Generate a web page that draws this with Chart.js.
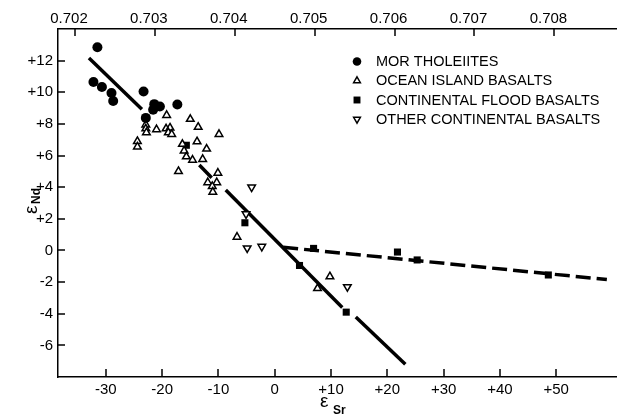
<!DOCTYPE html>
<html><head><meta charset="utf-8">
<script src="https://cdn.jsdelivr.net/npm/chart.js@4.4.0/dist/chart.umd.min.js"></script>
<style>html,body{margin:0;padding:0;background:#fff;}canvas{display:block;}</style>
</head><body>
<canvas id="c" width="617" height="417"></canvas>
<script>
// ---- data (eSr, eNd) ----
const morTholeiites = [
  [-31.5,12.85],[-32.2,10.65],[-30.7,10.33],[-29.0,9.95],[-28.7,9.45],
  [-23.3,10.05],[-21.4,9.25],[-20.4,9.1],[-21.6,8.9],[-17.3,9.23],[-22.9,8.38]
];
const oceanIslandBasalts = [
  [-19.2,8.55],[-15.0,8.3],[-13.6,7.8],[-9.9,7.35],
  [-22.9,7.95],[-22.9,7.7],[-22.8,7.45],
  [-21.0,7.65],[-19.3,7.7],[-18.6,7.75],[-18.9,7.45],[-18.3,7.35],
  [-24.4,6.9],[-24.4,6.55],
  [-16.4,6.72],[-13.8,6.88],[-16.1,6.3],[-15.7,5.93],[-14.6,5.72],[-12.1,6.42],[-12.8,5.77],
  [-17.1,5.0],[-10.1,4.9],
  [-11.9,4.3],[-10.3,4.3],[-11.1,4.05],[-11.0,3.7],
  [-6.7,0.85],[9.8,-1.65],[7.6,-2.4]
];
const continentalFloodBasalts = [
  [-15.7,6.65],[-5.3,1.75],[4.4,-0.95],[6.9,0.13],[12.7,-3.9],[21.8,-0.1],[25.3,-0.6],[48.6,-1.55]
];
const otherContinentalBasalts = [
  [-4.1,4.0],[-5.1,2.3],[-4.9,0.15],[-2.3,0.25],[12.9,-2.3]
];
// mantle array (solid, drawn in pieces) and continental trend (dashed)
const mantleArraySegments = [
  [[-33.0,12.17],[-23.6,8.93]],
  [[-13.4,5.4],[-11.2,4.6]],
  [[-8.7,3.82],[12.0,-3.6]],
  [[14.4,-4.2],[23.2,-7.2]]
];
const continentalTrend = [[1.5,0.2],[59.0,-1.84]];

const seriesNames = ['MOR THOLEIITES','OCEAN ISLAND BASALTS','CONTINENTAL FLOOD BASALTS','OTHER CONTINENTAL BASALTS'];

const xTickValues = [-30,-20,-10,0,10,20,30,40,50];
const xTickLabels = ['-30','-20','-10','0','+10','+20','+30','+40','+50'];
const yTickValues = [-6,-4,-2,0,2,4,6,8,10,12];
const yTickLabels = ['-6','-4','-2','0','+2','+4','+6','+8','+10','+12'];
const srTickValues = [0.702,0.703,0.704,0.705,0.706,0.707,0.708];
const srTickLabels = ['0.702','0.703','0.704','0.705','0.706','0.707','0.708'];

const X_MIN = -38.5, X_MAX = 60.8, Y_MIN = -8, Y_MAX = 14;
const SR_BULK = 0.7045;
const toRatio = e => SR_BULK * (1 + e / 1e4);

const FONT = '"Liberation Sans", Arial, sans-serif';
const pts = arr => arr.map(p => ({x:p[0], y:p[1]}));

const datasets = [];
mantleArraySegments.forEach(seg => datasets.push({
  data: pts(seg), showLine:true, pointRadius:0, borderColor:'#000', borderWidth:3.5,
  borderCapStyle:'butt', order:10
}));
datasets.push({
  data: pts(continentalTrend), showLine:true, pointRadius:0, borderColor:'#000', borderWidth:3.5,
  borderDash:[15,6], borderCapStyle:'butt', order:10
});
const styles = [
  {pointStyle:'circle', pointRadius:5, backgroundColor:'#000', borderColor:'#000', borderWidth:0, rotation:0},
  {pointStyle:'triangle', pointRadius:4.4, backgroundColor:'#fff', borderColor:'#000', borderWidth:1.5, rotation:0},
  {pointStyle:'rect', pointRadius:5, backgroundColor:'#000', borderColor:'#000', borderWidth:0, rotation:0},
  {pointStyle:'triangle', pointRadius:4.4, backgroundColor:'#fff', borderColor:'#000', borderWidth:1.5, rotation:180}
];
[morTholeiites, oceanIslandBasalts, continentalFloodBasalts, otherContinentalBasalts].forEach((arr,i)=>{
  const s = styles[i];
  datasets.push({
    label: seriesNames[i], data: pts(arr), showLine:false,
    pointStyle:s.pointStyle, pointRadius:s.pointRadius, pointRotation:s.rotation,
    pointBackgroundColor:s.backgroundColor, pointBorderColor:s.borderColor, pointBorderWidth:s.borderWidth,
    pointHoverRadius:s.pointRadius, order:i
  });
});

function drawMarker(ctx, style, x, y, r){
  ctx.save();
  ctx.translate(x,y);
  ctx.fillStyle = style.backgroundColor; ctx.strokeStyle = style.borderColor; ctx.lineWidth = style.borderWidth;
  ctx.beginPath();
  if (style.pointStyle === 'circle') { ctx.arc(0,0,r,0,Math.PI*2); }
  else if (style.pointStyle === 'rect') { const s=r*Math.SQRT1_2; ctx.rect(-s,-s,2*s,2*s); }
  else {
    if (style.rotation) ctx.rotate(Math.PI);
    for (let k=0;k<3;k++){ const a = k*2*Math.PI/3; const px=Math.sin(a)*r, py=-Math.cos(a)*r; k?ctx.lineTo(px,py):ctx.moveTo(px,py);} ctx.closePath();
  }
  ctx.fill(); if (style.borderWidth) ctx.stroke();
  ctx.restore();
}

const noPad = s => { s.paddingLeft = 0; s.paddingRight = 0; s.paddingTop = 0; s.paddingBottom = 0; };

const decorations = {
  id:'decorations',
  afterDraw(chart){
    const ctx = chart.ctx, a = chart.chartArea;
    ctx.save();
    ctx.strokeStyle = '#000'; ctx.lineWidth = 1.5;
    const xs = chart.scales.x, ys = chart.scales.y, xt = chart.scales.xTop;
    xTickValues.forEach(v => { const p = Math.round(xs.getPixelForValue(v)); ctx.beginPath(); ctx.moveTo(p, a.bottom); ctx.lineTo(p, a.bottom-8); ctx.stroke(); });
    yTickValues.forEach(v => { const p = Math.round(ys.getPixelForValue(v)); ctx.beginPath(); ctx.moveTo(a.left, p); ctx.lineTo(a.left+7, p); ctx.stroke(); });
    srTickValues.forEach(v => { const p = Math.round(xt.getPixelForValue(v)); ctx.beginPath(); ctx.moveTo(p, a.top); ctx.lineTo(p, a.top+7); ctx.stroke(); });
    // legend
    const rows = [61.5, 80.7, 100, 119.3];
    const legendR = [4.3, 3.9, 4.9, 3.9];
    ctx.font = '14.5px ' + FONT; ctx.textBaseline = 'middle'; ctx.textAlign = 'left';
    seriesNames.forEach((name, i) => {
      drawMarker(ctx, styles[i], 357, rows[i], legendR[i]);
      ctx.fillStyle = '#000';
      ctx.fillText(name, 376, rows[i] + 0.5);
    });
    // axis titles
    ctx.fillStyle = '#000';
    ctx.textBaseline = 'alphabetic';
    ctx.save();
    ctx.translate(30, 208); ctx.rotate(-Math.PI/2);
    ctx.font = '19px ' + FONT; ctx.fillText('ε', -6, 7);
    ctx.font = 'bold 12px ' + FONT; ctx.fillText('Nd', 4, 10);
    ctx.restore();
    ctx.font = '19px ' + FONT; ctx.fillText('ε', 320, 407);
    ctx.font = 'bold 12px ' + FONT; ctx.fillText('Sr', 333, 414);
    ctx.restore();
  }
};

new Chart(document.getElementById('c'), {
  type:'scatter',
  data:{datasets},
  options:{
    responsive:false, animation:false, devicePixelRatio:1,
    layout:{padding:0, autoPadding:false},
    plugins:{legend:{display:false}, tooltip:{enabled:false}},
    scales:{
      x:{type:'linear', position:'bottom', min:X_MIN, max:X_MAX,
        afterBuildTicks: s => { s.ticks = xTickValues.map(v => ({value:v})); },
        afterFit: s => { s.height = 40; noPad(s); },
        grid:{display:false, drawTicks:false},
        border:{display:true, color:'#000', width:1.5},
        ticks:{color:'#000', font:{family:FONT, size:15}, padding:4, maxRotation:0, autoSkip:false,
          callback:(v,i) => xTickLabels[i]}
      },
      xTop:{type:'linear', position:'top', axis:'x', min:toRatio(X_MIN), max:toRatio(X_MAX),
        afterBuildTicks: s => { s.ticks = srTickValues.map(v => ({value:v})); },
        afterFit: s => { s.height = 29; noPad(s); },
        grid:{display:false, drawTicks:false},
        border:{display:true, color:'#000', width:1.5},
        ticks:{color:'#000', font:{family:FONT, size:15}, padding:1, maxRotation:0, autoSkip:false, labelOffset:-6,
          callback:(v,i) => srTickLabels[i]}
      },
      y:{type:'linear', position:'left', min:Y_MIN, max:Y_MAX,
        afterBuildTicks: s => { s.ticks = yTickValues.map(v => ({value:v})); },
        afterFit: s => { s.width = 58; noPad(s); },
        grid:{display:false, drawTicks:false},
        border:{display:true, color:'#000', width:1.5},
        ticks:{color:'#000', font:{family:FONT, size:15}, padding:5, autoSkip:false,
          callback:(v,i) => yTickLabels[i]}
      }
    }
  },
  plugins:[decorations]
});
</script>
</body></html>
